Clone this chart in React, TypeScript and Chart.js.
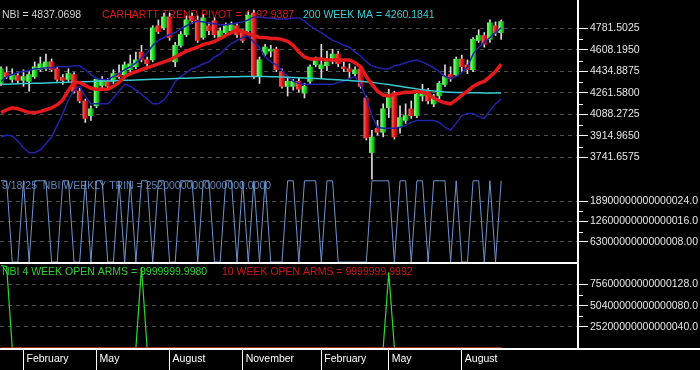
import React, { useEffect, useRef } from "react";
import { Chart, registerables } from "chart.js";

Chart.register(...registerables);

// Weekly bars: week 0 = first week of January 2024, week 89 = week of 9/18/25
const monthTickWeeks = [4, 17, 30, 43, 57, 69, 82];
const monthTickLabels = ["February", "May", "August", "November", "February", "May", "August"];

const open = [
  4338, 4425, 4370, 4401, 4362, 4354, 4393, 4448, 4456, 4511,
  4456, 4385, 4370, 4409, 4275, 4196, 4078, 4157, 4322, 4354,
  4354, 4417, 4409, 4448, 4472, 4590, 4527, 4527, 4803, 4787,
  4874, 4511, 4645, 4732, 4882, 4850, 4708, 4803, 4842, 4708,
  4748, 4763, 4803, 4748, 4763, 4905, 4393, 4574, 4598, 4614,
  4433, 4314, 4314, 4354, 4259, 4354, 4488, 4456, 4480, 4519,
  4574, 4472, 4456, 4417, 4456, 4220, 3779, 3976, 3944, 4141,
  4251, 3984, 4039, 4133, 4078, 4236, 4275, 4173, 4236, 4330,
  4409, 4409, 4535, 4488, 4448, 4685, 4724, 4693, 4803, 4748,
];
const high = [
  4472, 4472, 4456, 4425, 4448, 4433, 4511, 4551, 4574, 4535,
  4472, 4409, 4456, 4425, 4299, 4212, 4157, 4378, 4393, 4378,
  4448, 4488, 4511, 4567, 4590, 4645, 4551, 4803, 4850, 4905,
  4905, 4669, 4756, 4882, 4905, 4882, 4890, 4826, 4866, 4787,
  4826, 4834, 4826, 4771, 4913, 4929, 4551, 4653, 4645, 4630,
  4456, 4378, 4370, 4378, 4338, 4488, 4551, 4653, 4598, 4614,
  4598, 4511, 4496, 4472, 4472, 4236, 3960, 4039, 4173, 4291,
  4275, 4157, 4173, 4196, 4283, 4330, 4299, 4251, 4354, 4488,
  4472, 4551, 4567, 4527, 4708, 4771, 4748, 4850, 4834, 4850,
];
const low = [
  4322, 4378, 4346, 4338, 4314, 4275, 4378, 4433, 4441, 4433,
  4354, 4330, 4354, 4259, 4181, 4023, 4039, 4141, 4299, 4283,
  4338, 4378, 4393, 4433, 4456, 4511, 4472, 4511, 4740, 4771,
  4685, 4472, 4630, 4716, 4819, 4669, 4693, 4732, 4708, 4693,
  4724, 4740, 4708, 4669, 4748, 4378, 4338, 4559, 4551, 4433,
  4299, 4236, 4283, 4267, 4220, 4330, 4472, 4378, 4441, 4496,
  4472, 4433, 4378, 4393, 4299, 3881, 3566, 3921, 3905, 4062,
  3889, 3936, 4015, 4055, 4062, 4196, 4173, 4149, 4212, 4314,
  4354, 4393, 4433, 4417, 4433, 4669, 4630, 4669, 4724, 4693,
];
const close = [
  4456, 4393, 4409, 4362, 4393, 4409, 4472, 4496, 4511, 4448,
  4370, 4362, 4417, 4275, 4196, 4055, 4133, 4370, 4362, 4314,
  4417, 4393, 4488, 4496, 4527, 4527, 4496, 4787, 4756, 4874,
  4708, 4645, 4732, 4850, 4842, 4685, 4866, 4763, 4732, 4763,
  4803, 4811, 4732, 4685, 4890, 4393, 4527, 4630, 4614, 4448,
  4314, 4354, 4354, 4291, 4314, 4472, 4527, 4488, 4511, 4574,
  4496, 4456, 4433, 4448, 4314, 3897, 3905, 3944, 4133, 4251,
  3905, 4062, 4078, 4078, 4251, 4267, 4196, 4220, 4338, 4393,
  4378, 4535, 4472, 4448, 4693, 4724, 4653, 4826, 4748, 4837.0698,
];
const trendPivot = [
  4102, 4125, 4141, 4133, 4118, 4102, 4102, 4110, 4125, 4141,
  4165, 4204, 4283, 4346, 4346, 4322, 4299, 4291, 4291, 4291,
  4314, 4346, 4393, 4417, 4433, 4448, 4464, 4480, 4496, 4511,
  4527, 4551, 4574, 4598, 4614, 4630, 4653, 4661, 4677, 4700,
  4724, 4748, 4771, 4756, 4740, 4724, 4708, 4708, 4700, 4700,
  4693, 4677, 4645, 4590, 4551, 4535, 4535, 4535, 4527, 4527,
  4527, 4527, 4527, 4504, 4472, 4393, 4330, 4275, 4244, 4236,
  4251, 4259, 4267, 4267, 4275, 4267, 4251, 4220, 4196, 4181,
  4173, 4204, 4244, 4275, 4314, 4338, 4354, 4393, 4433, 4492.9387,
];
const ma200 = [
  4330, 4331, 4333, 4334, 4336, 4337, 4339, 4340, 4342, 4343,
  4345, 4346, 4348, 4349, 4351, 4352, 4354, 4355, 4357, 4358,
  4360, 4361, 4363, 4364, 4366, 4367, 4369, 4371, 4372, 4374,
  4375, 4377, 4379, 4380, 4382, 4384, 4385, 4387, 4388, 4389,
  4390, 4391, 4392, 4393, 4393, 4394, 4394, 4393, 4392, 4391,
  4390, 4388, 4386, 4384, 4382, 4380, 4377, 4375, 4372, 4370,
  4367, 4364, 4361, 4358, 4355, 4351, 4347, 4340, 4334, 4328,
  4321, 4314, 4307, 4300, 4293, 4287, 4281, 4276, 4272, 4269,
  4267, 4265, 4264, 4263, 4262, 4261.5, 4261, 4260.7, 4260.4, 4260.1841,
];
const bandUpper = [
  4354, 4393, 4409, 4425, 4433, 4441, 4456, 4456, 4464, 4464,
  4472, 4472, 4472, 4480, 4480, 4448, 4409, 4378, 4370, 4370,
  4393, 4417, 4448, 4472, 4504, 4543, 4582, 4645, 4685, 4708,
  4732, 4748, 4779, 4803, 4826, 4842, 4834, 4826, 4819, 4811,
  4811, 4819, 4826, 4834, 4850, 4874, 4874, 4866, 4866, 4858,
  4858, 4858, 4866, 4866, 4842, 4803, 4771, 4748, 4716, 4685,
  4669, 4645, 4630, 4590, 4559, 4511, 4480, 4464, 4456, 4456,
  4480, 4488, 4504, 4519, 4527, 4511, 4488, 4464, 4433, 4393,
  4378, 4393, 4425, 4472, 4574, 4630, 4669, 4708, 4748, 4787,
];
const bandLower = [
  3905, 3921, 3913, 3873, 3818, 3779, 3779, 3802, 3850, 3905,
  3999, 4094, 4204, 4283, 4314, 4236, 4173, 4173, 4173, 4173,
  4220, 4275, 4330, 4314, 4283, 4251, 4212, 4173, 4173, 4204,
  4267, 4354, 4393, 4425, 4456, 4472, 4496, 4511, 4551, 4574,
  4622, 4661, 4685, 4708, 4724, 4669, 4630, 4551, 4511, 4488,
  4441, 4393, 4354, 4338, 4330, 4330, 4330, 4330, 4330, 4330,
  4346, 4354, 4378, 4393, 4330, 4220, 4078, 3984, 3976, 3976,
  3976, 3984, 3999, 4023, 4039, 4039, 4039, 4039, 4023, 3984,
  3960, 4015, 4078, 4094, 4094, 4070, 4055, 4118, 4173, 4212,
];
const trin = [
  2.52e16, 2.52e16, 0, 0, 2.52e16, 0, 2.52e16, 2.52e16, 2.52e16, 0,
  0, 2.52e16, 2.52e16, 0, 0, 2.52e16, 0, 2.52e16, 2.52e16, 0,
  0, 2.52e16, 0, 2.52e16, 0, 2.52e16, 2.52e16, 0, 2.52e16, 2.52e16,
  0, 0, 2.52e16, 2.52e16, 2.52e16, 0, 2.52e16, 2.52e16, 0, 0,
  2.52e16, 2.52e16, 0, 2.52e16, 0, 2.52e16, 0, 2.52e16, 0, 0,
  0, 2.52e16, 2.52e16, 0, 2.52e16, 2.52e16, 2.52e16, 0, 2.52e16, 2.52e16,
  0, 0, 0, 0, 0, 0, 2.52e16, 2.52e16, 2.52e16, 2.52e16,
  0, 2.52e16, 2.52e16, 0, 2.52e16, 2.52e16, 0, 2.52e16, 2.52e16, 2.52e16,
  0, 2.52e16, 0, 0, 2.52e16, 2.52e16, 0, 2.52e16, 0, 2.52e16,
];
const openArms4 = [
  9.8e16, 9.7e16, 0, 0, 0, 0, 0, 0, 0, 0,
  0, 0, 0, 0, 0, 0, 0, 0, 0, 0,
  0, 0, 0, 0, 0, 9.6e16, 0, 0, 0, 0,
  0, 0, 0, 0, 0, 0, 0, 0, 0, 0,
  0, 0, 0, 0, 0, 0, 0, 0, 0, 0,
  0, 0, 0, 0, 0, 0, 0, 0, 0, 0,
  0, 0, 0, 0, 0, 0, 0, 0, 0, 9.0e16,
  0, 0, 0, 0, 0, 0, 0, 0, 0, 0,
  0, 0, 0, 0, 0, 0, 0, 0, 0, 0,
];
const openArms10 = [
  0, 0, 0, 0, 0, 0, 0, 0, 0, 0,
  0, 0, 0, 0, 0, 0, 0, 0, 0, 0,
  0, 0, 0, 0, 0, 0, 0, 0, 0, 0,
  0, 0, 0, 0, 0, 0, 0, 0, 0, 0,
  0, 0, 0, 0, 0, 0, 0, 0, 0, 0,
  0, 0, 0, 0, 0, 0, 0, 0, 0, 0,
  0, 0, 0, 0, 0, 0, 0, 0, 0, 0,
  0, 0, 0, 0, 0, 0, 0, 0, 0, 0,
  0, 0, 0, 0, 0, 0, 0, 0, 0, 0,
];

const priceTicks = [3741.6575, 3914.965, 4088.2725, 4261.58, 4434.8875, 4608.195, 4781.5025];
const priceTickLabels = ["3741.6575", "3914.9650", "4088.2725", "4261.5800", "4434.8875", "4608.1950", "4781.5025"];
const trinTicks = [6.3e15, 1.26e16, 1.89e16];
const trinTickLabels = ["6300000000000008.00", "12600000000000016.0", "18900000000000024.0"];
const armsTicks = [2.52e16, 5.04e16, 7.56e16];
const armsTickLabels = ["25200000000000040.0", "50400000000000080.0", "75600000000000128.0"];

const priceLegend = ["NBI = 4837.0698", "CARHARTT TREND PIVOT = 4492.9387", "200 WEEK MA = 4260.1841"];
const trinLegend = ["9/18/25  NBI WEEKLY TRIN = 25200000000000000.0000"];
const armsLegend = ["NBI 4 WEEK OPEN ARMS = 9999999.9980", "10 WEEK OPEN ARMS = 9999999.9992"];

const FONT_FAMILY = '"Liberation Sans", Arial, Helvetica, sans-serif';
const FONT_SIZE = 10.5;
const BODY_W = 5;

const bodyColor = (c: any) => {
  const i = c.dataIndex;
  if (i === undefined) return "#22cc22";
  const up = close[i] >= open[i];
  const xs = c.chart.scales && c.chart.scales.x;
  if (!xs || !isFinite(xs.getPixelForValue(i))) return up ? "#22cc22" : "#cc2222";
  const px = xs.getPixelForValue(i);
  const g = c.chart.ctx.createLinearGradient(px - BODY_W / 2, 0, px + BODY_W / 2, 0);
  if (up) {
    g.addColorStop(0, "#8cff8c");
    g.addColorStop(0.45, "#33e433");
    g.addColorStop(1, "#0c980c");
  } else {
    g.addColorStop(0, "#ff6060");
    g.addColorStop(0.45, "#e42020");
    g.addColorStop(1, "#9e0a0a");
  }
  return g;
};

const decorPlugin = {
  id: "panelDecor",
  beforeDatasetsDraw(chart: any) {
    const { ctx, chartArea } = chart;
    const sP = chart.scales.yPrice;
    const sT = chart.scales.yTrin;
    const sA = chart.scales.yArms;
    const L = chartArea.left;
    ctx.save();
    ctx.font = `${FONT_SIZE}px ${FONT_FAMILY}`;
    ctx.textAlign = "left";
    ctx.textBaseline = "alphabetic";
    const rows: [string, string, number, number][] = [
      [priceLegend[0], "#d4d4d4", L + 2, sP.top + 10],
      [priceLegend[1], "#e01818", L + 102, sP.top + 10],
      [priceLegend[2], "#3ccdd4", L + 303, sP.top + 10],
      [trinLegend[0], "#5f82b4", L + 2, sT.top + 13],
      [armsLegend[0], "#28d428", L + 2, sA.top + 11],
      [armsLegend[1], "#d01616", L + 222, sA.top + 11],
    ];
    for (const [t, col, x, y] of rows) {
      ctx.fillStyle = col;
      ctx.fillText(t, x, y);
    }
    ctx.restore();
  },
  afterDraw(chart: any) {
    const { ctx, chartArea } = chart;
    const sP = chart.scales.yPrice;
    const sT = chart.scales.yTrin;
    const sA = chart.scales.yArms;
    ctx.save();
    ctx.strokeStyle = "#ffffff";
    ctx.lineWidth = 1;
    const sets: [any, number[]][] = [[sP, priceTicks], [sT, trinTicks], [sA, armsTicks]];
    for (const [sc, vals] of sets) {
      for (let k = 0; k < vals.length - 1; k++) {
        const y = Math.round(sc.getPixelForValue((vals[k] + vals[k + 1]) / 2)) + 0.5;
        ctx.beginPath();
        ctx.moveTo(chartArea.right, y);
        ctx.lineTo(chartArea.right + 5, y);
        ctx.stroke();
      }
    }
    ctx.fillStyle = "#ffffff";
    ctx.fillRect(chartArea.right - 1, 0, 2, chartArea.bottom);
    ctx.fillRect(chartArea.left, Math.round(sA.top) - 2, chartArea.right - chartArea.left, 2);
    ctx.fillRect(0, Math.round(chartArea.bottom) - 1, chart.width, 2);
    ctx.restore();
  },
};

const tickFont = { family: FONT_FAMILY, size: FONT_SIZE };

function yAxis(stackWeight: number, min: number, max: number, ticks: number[], labels: string[]) {
  return {
    type: "linear",
    position: "right",
    stack: "panes",
    stackWeight,
    min,
    max,
    afterBuildTicks: (s: any) => {
      s.ticks = ticks.map((v) => ({ value: v }));
    },
    afterFit: (s: any) => {
      s.width = 122;
    },
    ticks: {
      callback: (_v: any, i: number) => labels[i],
      color: "#e6e6e6",
      font: tickFont,
      padding: 2,
      autoSkip: false,
    },
    grid: {
      color: "#4e4e4e",
      lineWidth: 1,
      drawOnChartArea: true,
      drawTicks: true,
      tickLength: 10,
      tickColor: "#ffffff",
      tickWidth: 1,
    },
    border: { display: false, dash: [4, 4] },
  };
}

export default function App() {
  const ref = useRef<HTMLCanvasElement>(null);

  useEffect(() => {
    if (!ref.current) return;
    const idx = (arr: number[]) => arr.map((v, i) => ({ x: i, y: v }));
    const lineDs = (label: string, data: number[], yAxisID: string, color: string, width: number, order: number) => ({
      type: "line",
      label,
      data: idx(data),
      yAxisID,
      borderColor: color,
      backgroundColor: color,
      borderWidth: width,
      pointRadius: 0,
      tension: 0,
      fill: false,
      order,
    });

    const chart = new Chart(ref.current, {
      type: "line",
      data: {
        datasets: [
          lineDs("Carhartt Trend Pivot", trendPivot, "yPrice", "#e41a1c", 3.5, 1),
          lineDs("200 Week MA", ma200, "yPrice", "#38c9d0", 1.5, 2),
          lineDs("Upper Band", bandUpper, "yPrice", "#2222aa", 1.5, 3),
          lineDs("Lower Band", bandLower, "yPrice", "#2222aa", 1.5, 3),
          {
            type: "bar",
            label: "Body",
            data: open.map((o, i) => ({ x: i, y: [o, close[i]] })),
            yAxisID: "yPrice",
            backgroundColor: bodyColor,
            borderWidth: 0,
            barThickness: BODY_W,
            grouped: false,
            minBarLength: 1,
            order: 5,
          },
          {
            type: "bar",
            label: "Wick",
            data: low.map((l, i) => ({ x: i, y: [l, high[i]] })),
            yAxisID: "yPrice",
            backgroundColor: "#dcdcdc",
            borderWidth: 0,
            barThickness: 1,
            grouped: false,
            clip: false,
            order: 6,
          },
          lineDs("Weekly TRIN", trin, "yTrin", "#7094cc", 1, 1),
          lineDs("10 Week Open Arms", openArms10, "yArms", "#cc1a1a", 1.5, 1),
          lineDs("4 Week Open Arms", openArms4, "yArms", "#2ed82e", 1.2, 2),
        ] as any,
      },
      options: {
        responsive: false,
        animation: false,
        events: [],
        layout: { padding: 0 },
        plugins: { legend: { display: false }, tooltip: { enabled: false }, title: { display: false } },
        scales: {
          x: {
            type: "linear",
            position: "bottom",
            min: -0.18,
            max: 102.67,
            offset: false,
            afterBuildTicks: (s: any) => {
              s.ticks = monthTickWeeks.map((v) => ({ value: v }));
            },
            afterFit: (s: any) => {
              s.height = 21;
            },
            ticks: {
              callback: (_v: any, i: number) => monthTickLabels[i],
              color: "#ffffff",
              font: tickFont,
              align: "start",
              labelOffset: 3,
              padding: -17,
              autoSkip: false,
              maxRotation: 0,
              minRotation: 0,
            },
            grid: {
              drawOnChartArea: false,
              drawTicks: true,
              tickLength: 21,
              tickColor: "#ffffff",
              tickWidth: 1,
              offset: false,
            },
            border: { display: false },
          },
          yPrice: yAxis(172, 3588.9, 4943.8, priceTicks, priceTickLabels),
          yTrin: yAxis(90, -6.05e14, 2.662e16, trinTicks, trinTickLabels),
          yArms: yAxis(87, -1.16e15, 9.99e16, armsTicks, armsTickLabels),
        } as any,
      },
      plugins: [decorPlugin as any],
    });
    return () => chart.destroy();
  }, []);

  return (
    <div style={{ position: "fixed", left: 0, top: 0, width: 700, height: 370, background: "#000", overflow: "hidden" }}>
      <canvas ref={ref} width={700} height={370} style={{ display: "block", width: 700, height: 370 }} />
    </div>
  );
}
